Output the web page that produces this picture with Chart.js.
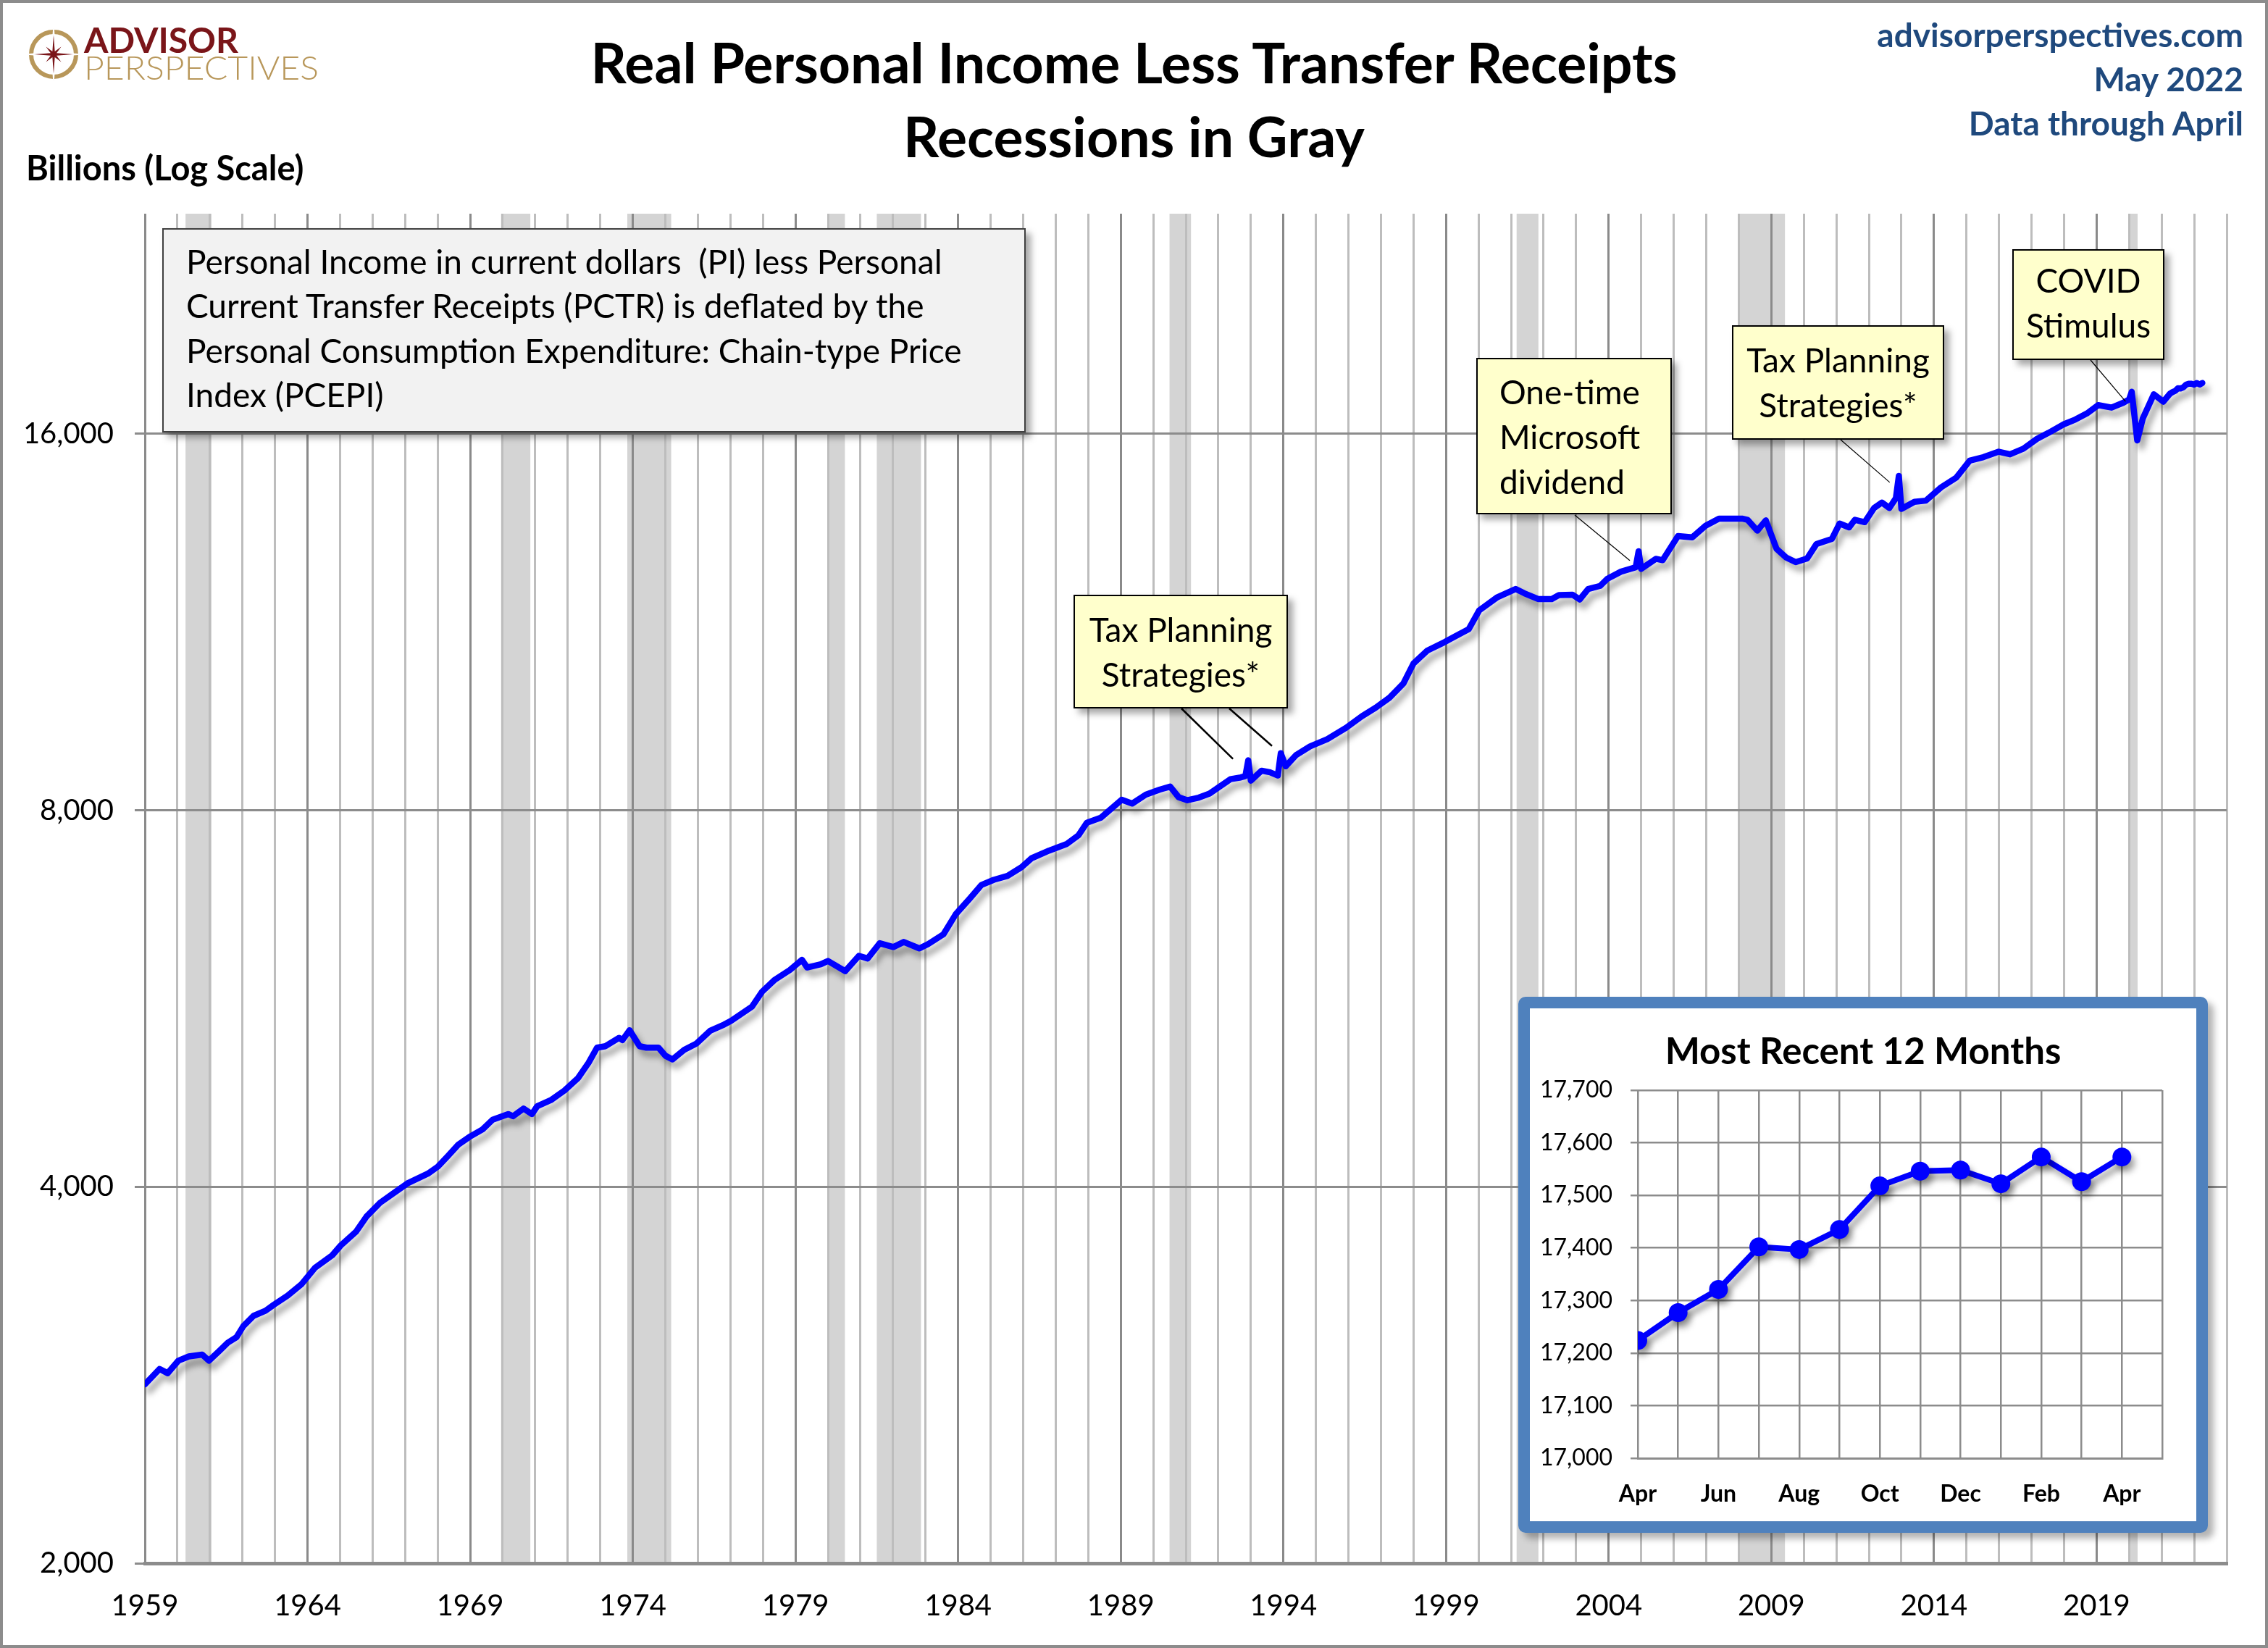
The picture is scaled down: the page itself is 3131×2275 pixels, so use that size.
<!DOCTYPE html>
<html>
<head>
<meta charset="utf-8">
<title>Real Personal Income Less Transfer Receipts</title>
<script src="https://cdn.jsdelivr.net/npm/chart.js@4.4.1/dist/chart.umd.min.js"></script>
<style>
  html, body { margin: 0; padding: 0; background: #fff; }
  #page { position: relative; width: 3131px; height: 2275px; overflow: hidden; font-family: Lato, "Open Sans", sans-serif; color: #000; }
  #frame { position: absolute; left: 0; top: 0; width: 3131px; height: 2275px; box-sizing: border-box; border: 4px solid #8c8c8c; pointer-events: none; }
  canvas { position: absolute; }
  .abs { position: absolute; white-space: nowrap; }
  .title { left: 0; width: 3131px; top: 34px; text-align: center; font-weight: 700; font-size: 77px; line-height: 102px; }
  .units { left: 36px; top: 206px; font-weight: 700; font-size: 47px; line-height: 50px; }
  .source { right: 34px; top: 17px; text-align: right; font-weight: 700; font-size: 46px; line-height: 61px; color: #1f497d; }
  .note { left: 224px; top: 315px; width: 1192px; height: 282px; box-sizing: border-box; background: #f2f2f2; border: 2px solid #404040; box-shadow: 7px 7px 9px rgba(0,0,0,0.35); }
  .note div { position: absolute; left: 31px; top: 13px; font-size: 46px; line-height: 61.3px; }
  .callout { box-sizing: border-box; background: #ffffcc; border: 2px solid #000; box-shadow: 7px 7px 9px rgba(0,0,0,0.35); font-size: 46px; line-height: 62px; }
  .callout div { position: absolute; left: 0; right: 0; text-align: center; }
  .inset { left: 2096px; top: 1376px; width: 952px; height: 740px; box-sizing: border-box; border: 16px solid #4f81bd; border-radius: 10px; background: #fff; box-shadow: 8px 8px 10px rgba(0,0,0,0.3); }
  .inset-title { left: 2096px; width: 952px; top: 1420px; text-align: center; font-weight: 700; font-size: 51px; line-height: 60px; }
</style>
</head>
<body>
<div id="page">
  <canvas id="main" width="3131" height="2275" style="left:0;top:0;width:3131px;height:2275px"></canvas>

  <svg class="abs" style="left:0;top:0" width="470" height="130" viewBox="0 0 470 130">
    <circle cx="74" cy="75" r="31" fill="none" stroke="#b8975a" stroke-width="6"></circle>
    <path id="star" fill="#7a1519" stroke="#fff" stroke-width="1.5"></path>
    <text x="116" y="73" font-family="Lato" font-weight="700" font-size="48" fill="#7a1519" textLength="213" lengthAdjust="spacingAndGlyphs">ADVISOR</text>
    <text x="116" y="110" font-family="Lato" font-weight="300" font-size="46" fill="#b8975a" textLength="324" lengthAdjust="spacingAndGlyphs">PERSPECTIVES</text>
  </svg>

  <div class="abs title">Real Personal Income Less Transfer Receipts<br>Recessions in Gray</div>
  <div class="abs units">Billions (Log Scale)</div>
  <div class="abs source">advisorperspectives.com<br>May 2022<br>Data through April</div>

  <div class="abs note"><div>Personal Income in current dollars&nbsp; (PI) less Personal<br>Current Transfer Receipts (PCTR) is deflated by the<br>Personal Consumption Expenditure: Chain-type Price<br>Index (PCEPI)</div></div>

  <div class="abs callout" style="left:1482px;top:821px;width:296px;height:157px"><div style="top:15px">Tax Planning<br>Strategies*</div></div>
  <div class="abs callout" style="left:2038px;top:494px;width:270px;height:216px"><div style="top:14px;text-align:left;left:30px">One-time<br>Microsoft<br>dividend</div></div>
  <div class="abs callout" style="left:2391px;top:449px;width:293px;height:158px"><div style="top:15px">Tax Planning<br>Strategies*</div></div>
  <div class="abs callout" style="left:2778px;top:344px;width:210px;height:153px"><div style="top:10px">COVID<br>Stimulus</div></div>

  <div class="abs inset"></div>
  <canvas id="recent" width="920" height="708" style="left:2112px;top:1392px;width:920px;height:708px"></canvas>
  <div class="abs inset-title">Most Recent 12 Months</div>

  <div id="frame"></div>
</div>

<script>
// Real personal income less transfer receipts, billions, x = decimal year
const incomeYears = [
  1959.00, 1959.45, 1959.70, 1960.03, 1960.35, 1960.76, 1960.97, 1961.29, 1961.55, 1961.82,
  1962.03, 1962.34, 1962.71, 1962.97, 1963.39, 1963.81, 1964.23, 1964.76, 1965.02, 1965.49,
  1965.81, 1966.23, 1966.65, 1967.07, 1967.70, 1968.01, 1968.33, 1968.64, 1969.01, 1969.38,
  1969.69, 1970.17, 1970.32, 1970.64, 1970.90, 1971.06, 1971.48, 1971.90, 1972.32, 1972.64,
  1972.90, 1973.16, 1973.58, 1973.68, 1973.90, 1974.21, 1974.42, 1974.79, 1975.00, 1975.22,
  1975.58, 1975.96, 1976.38, 1976.81, 1977.02, 1977.66, 1977.98, 1978.35, 1978.83, 1979.20,
  1979.36, 1979.78, 1980.00, 1980.53, 1980.95, 1981.22, 1981.59, 1982.01, 1982.33, 1982.81,
  1983.08, 1983.55, 1983.93, 1984.35, 1984.72, 1985.10, 1985.52, 1985.95, 1986.26, 1986.80,
  1987.33, 1987.70, 1987.96, 1988.39, 1989.03, 1989.35, 1989.77, 1990.20, 1990.52, 1990.78,
  1991.05, 1991.40, 1991.73, 1992.37, 1992.69, 1992.83, 1992.92, 1993.00, 1993.33, 1993.59,
  1993.83, 1993.92, 1994.07, 1994.39, 1994.82, 1995.35, 1995.93, 1996.41, 1996.84, 1997.26,
  1997.69, 1998.00, 1998.43, 1998.96, 1999.28, 1999.70, 2000.02, 2000.56, 2001.14, 2001.41,
  2001.83, 2002.25, 2002.47, 2002.89, 2003.11, 2003.37, 2003.74, 2003.96, 2004.38, 2004.83,
  2004.92, 2005.00, 2005.45, 2005.66, 2006.13, 2006.57, 2006.98, 2007.39, 2008.10, 2008.27,
  2008.57, 2008.83, 2009.16, 2009.45, 2009.75, 2010.10, 2010.39, 2010.86, 2011.10, 2011.39,
  2011.57, 2011.87, 2012.16, 2012.40, 2012.63, 2012.83, 2012.92, 2013.00, 2013.40, 2013.75,
  2014.22, 2014.69, 2015.10, 2015.52, 2015.99, 2016.34, 2016.75, 2017.17, 2017.52, 2017.99,
  2018.35, 2018.70, 2019.05, 2019.46, 2019.82, 2020.00, 2020.08, 2020.25, 2020.42, 2020.76,
  2021.05, 2021.25, 2021.33, 2021.42, 2021.50, 2021.58, 2021.67, 2021.75, 2021.83, 2021.92,
  2022.00, 2022.08, 2022.17, 2022.25
];
const incomeValues = [
  2780, 2860, 2838, 2904, 2927, 2937, 2904, 2957, 3002, 3033,
  3096, 3154, 3184, 3220, 3274, 3342, 3446, 3526, 3590, 3682,
  3786, 3884, 3954, 4025, 4098, 4152, 4237, 4324, 4390, 4446,
  4526, 4573, 4555, 4620, 4573, 4640, 4692, 4776, 4888, 5026,
  5168, 5182, 5262, 5240, 5337, 5182, 5168, 5168, 5092, 5057,
  5147, 5208, 5331, 5393, 5430, 5572, 5731, 5852, 5963, 6076,
  5990, 6025, 6062, 5950, 6120, 6090, 6264, 6220, 6278, 6204,
  6254, 6368, 6609, 6797, 6974, 7040, 7090, 7205, 7325, 7429,
  7517, 7641, 7820, 7894, 8158, 8100, 8235, 8312, 8358, 8196,
  8150, 8190, 8250, 8472, 8500, 8520, 8772, 8450, 8606, 8580,
  8530, 8888, 8676, 8858, 9000, 9120, 9314, 9512, 9665, 9843,
  10105, 10485, 10738, 10906, 11020, 11170, 11560, 11836, 12026, 11930,
  11806, 11806, 11890, 11900, 11796, 12026, 12095, 12254, 12416, 12515,
  12890, 12480, 12713, 12680, 13257, 13225, 13510, 13690, 13690, 13660,
  13390, 13645, 12950, 12746, 12635, 12720, 13065, 13185, 13565, 13470,
  13660, 13600, 13960, 14100, 13960, 14215, 14810, 13935, 14120, 14150,
  14500, 14765, 15230, 15330, 15485, 15410, 15570, 15855, 16030, 16285,
  16430, 16612, 16870, 16795, 16945, 17050, 17290, 15810, 16460, 17210,
  16980, 17225, 17277, 17321, 17402, 17397, 17435, 17518, 17546, 17548,
  17522, 17573, 17526, 17573
];

// NBER recessions as drawn (decimal years)
const recessionStart = [1960.25, 1969.95, 1973.83, 1980.00, 1981.50, 1990.50, 2001.17, 2007.97, 2020.00];
const recessionEnd   = [1961.05, 1970.85, 1975.18, 1980.52, 1982.86, 1991.16, 2001.84, 2009.42, 2020.26];

const yTicks = [2000, 4000, 8000, 16000];
const yTickLabels = ["2,000", "4,000", "8,000", "16,000"];
const firstYear = 1959, lastYear = 2023;

// Most recent 12 months inset
const recentMonths = ["Apr", "May", "Jun", "Jul", "Aug", "Sep", "Oct", "Nov", "Dec", "Jan", "Feb", "Mar", "Apr"];
const recentValues = [17224, 17277, 17321, 17402, 17397, 17435, 17518, 17546, 17548, 17522, 17573, 17526, 17573];

// Callout leader lines: start at the box edge (px), end near the data (year, value)
const leaders = [
  { from: [1631, 978], to: [1992.45, 8794], width: 2.5 },
  { from: [1697, 978], to: [1993.65, 9008], width: 2.5 },
  { from: [2174, 711], to: [2004.65, 12672], width: 1.2 },
  { from: [2541, 607], to: [2012.64, 14634], width: 1.2 },
  { from: [2886, 497], to: [2019.89, 16988], width: 1.2 }
];

// logo star
(function () {
  let d = "";
  for (let k = 0; k < 16; k++) {
    const ang = (k * 22.5 - 90) * Math.PI / 180;
    const r = k % 2 === 1 ? 6 : (k % 4 === 0 ? 37 : 20);
    d += (k === 0 ? "M" : "L") + (74 + r * Math.cos(ang)).toFixed(1) + " " + (75 + r * Math.sin(ang)).toFixed(1);
  }
  document.getElementById("star").setAttribute("d", d + "Z");
})();

// Shadow under the lines
const lineShadow = {
  id: "lineShadow",
  beforeDatasetDraw(chart, args, opts) {
    const ctx = chart.ctx;
    ctx.save();
    ctx.shadowColor = "rgba(0,0,0,0.35)";
    ctx.shadowBlur = opts.blur || 8;
    ctx.shadowOffsetX = opts.dx || 5;
    ctx.shadowOffsetY = opts.dy || 8;
  },
  afterDatasetDraw(chart) {
    chart.ctx.restore();
  }
};

// Gray recession bands, under the grid
const recessionBands = {
  id: "recessionBands",
  beforeDraw(chart) {
    const { ctx, chartArea, scales } = chart;
    ctx.save();
    ctx.fillStyle = "#d4d4d4";
    recessionStart.forEach((s, i) => {
      const x0 = scales.x.getPixelForValue(s);
      const x1 = scales.x.getPixelForValue(recessionEnd[i]);
      ctx.fillRect(x0, chartArea.top, x1 - x0, chartArea.bottom - chartArea.top);
    });
    ctx.restore();
  }
};

const leaderLines = {
  id: "leaderLines",
  afterDatasetsDraw(chart) {
    const { ctx, scales } = chart;
    ctx.save();
    ctx.strokeStyle = "#000";
    leaders.forEach(l => {
      ctx.lineWidth = l.width;
      ctx.beginPath();
      ctx.moveTo(l.from[0], l.from[1]);
      ctx.lineTo(scales.x.getPixelForValue(l.to[0]), scales.y.getPixelForValue(l.to[1]));
      ctx.stroke();
    });
    ctx.restore();
  }
};

Chart.defaults.font.family = "Lato";
Chart.defaults.color = "#000";

new Chart(document.getElementById("main"), {
  type: "line",
  plugins: [recessionBands, lineShadow, leaderLines],
  data: {
    datasets: [{
      data: incomeYears.map((x, i) => ({ x: x, y: incomeValues[i] })),
      borderColor: "#0000ff",
      borderWidth: 8.5,
      pointRadius: 0,
      tension: 0,
      borderJoinStyle: "round",
      borderCapStyle: "round"
    }]
  },
  options: {
    responsive: false,
    devicePixelRatio: 1,
    animation: false,
    events: [],
    layout: { padding: { left: 20, top: 295, right: 57, bottom: 17 } },
    plugins: {
      legend: { display: false },
      tooltip: { enabled: false },
      lineShadow: { blur: 9, dx: 6, dy: 9 }
    },
    scales: {
      x: {
        type: "linear",
        min: firstYear,
        max: lastYear,
        afterFit: s => { s.height = 100; },
        ticks: {
          stepSize: 1,
          autoSkip: false,
          maxRotation: 0,
          padding: 35,
          font: { size: 40 },
          callback: v => ((v - firstYear) % 5 === 0 && v < lastYear) ? String(v) : ""
        },
        grid: {
          drawTicks: false,
          lineWidth: 3,
          color: c => (c.tick && (c.tick.value - firstYear) % 5 === 0 && c.tick.value < lastYear) ? "#8a8a8a" : "#bdbdbd"
        },
        border: { color: "#8c8c8c", width: 5 }
      },
      y: {
        type: "logarithmic",
        min: 2000,
        max: 24000,
        afterFit: s => { s.width = 180; },
        afterBuildTicks: s => { s.ticks = yTicks.map(v => ({ value: v })); },
        ticks: {
          padding: 29,
          crossAlign: "near",
          font: { size: 40 },
          callback: (v, i) => yTickLabels[i]
        },
        grid: { color: "#8c8c8c", lineWidth: 3, tickLength: 14 },
        border: { display: false }
      }
    }
  }
});

new Chart(document.getElementById("recent"), {
  type: "line",
  plugins: [lineShadow],
  data: {
    datasets: [{
      data: recentValues.map((v, i) => ({ x: i, y: v })),
      borderColor: "#0000ff",
      backgroundColor: "#0000ff",
      borderWidth: 8,
      pointRadius: 13,
      pointBorderWidth: 0,
      pointBackgroundColor: "#0000ff",
      tension: 0
    }]
  },
  options: {
    responsive: false,
    devicePixelRatio: 1,
    animation: false,
    events: [],
    layout: { padding: { left: 0, top: 113, right: 47, bottom: 0 } },
    plugins: {
      legend: { display: false },
      tooltip: { enabled: false },
      lineShadow: { blur: 8, dx: 5, dy: 8 }
    },
    scales: {
      x: {
        type: "linear",
        min: 0,
        max: 13,
        afterFit: s => { s.height = 87; },
        ticks: {
          stepSize: 1,
          autoSkip: false,
          maxRotation: 0,
          padding: 30,
          font: { size: 32, weight: "bold" },
          callback: v => (v % 2 === 0 && v < recentMonths.length) ? recentMonths[v] : ""
        },
        grid: { drawTicks: false, color: "#8c8c8c", lineWidth: 2.5 },
        border: { color: "#8c8c8c", width: 3 }
      },
      y: {
        min: 17000,
        max: 17700,
        afterFit: s => { s.width = 149; },
        ticks: {
          stepSize: 100,
          padding: 25,
          font: { size: 32 },
          callback: v => Number(v).toLocaleString("en-US")
        },
        grid: { color: "#8c8c8c", lineWidth: 2.5, tickLength: 10 },
        border: { display: false }
      }
    }
  }
});
</script>
</body>
</html>
